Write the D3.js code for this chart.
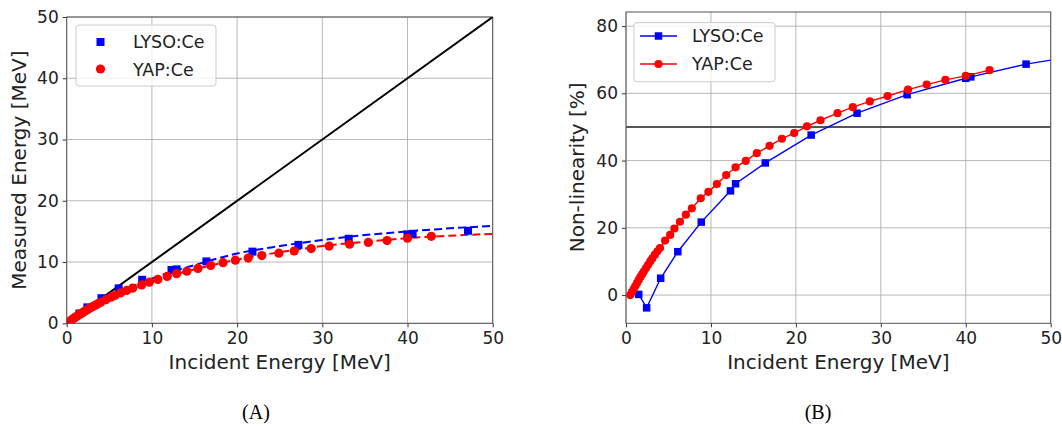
<!DOCTYPE html>
<html>
<head>
<meta charset="utf-8">
<script src="https://cdn.jsdelivr.net/npm/d3@7"></script>
<style>
  body { margin: 0; background: #fff; }
  text { font-family: "DejaVu Sans", sans-serif; }
</style>
</head>
<body>
<div id="plot"></div>
<script>
var width = 1062;
var height = 428;

// LYSO:Ce points
var lysoE  = [1.5, 2.43, 4.08, 6.1, 8.86, 12.3, 12.9, 16.4, 21.8, 27.2, 33.1, 40.0, 40.6, 47.1];
var lysoM  = [1.6, 2.6, 4.1, 5.7, 7.1, 8.7, 8.8, 10.1, 11.7, 12.8, 13.8, 14.5, 14.6, 15.1];
var lysoNL = [0.2, -3.8, 5.0, 12.9, 21.7, 31.0, 33.1, 39.3, 47.6, 54.1, 59.6, 64.5, 64.9, 68.7];
// line of panel B runs on to the frame edge
var lysoEdgeE = 50, lysoEdgeNL = 69.9;

// YAP:Ce points
var yapE  = [0.5, 0.7, 0.9, 1.1, 1.3, 1.5, 1.7, 1.9, 2.1, 2.35, 2.6, 2.85, 3.1, 3.4, 3.7, 4.0, 4.6, 5.2, 5.7, 6.35,
             7.05, 7.75, 8.8, 9.7, 10.7, 11.8, 12.9, 14.1, 15.4, 16.9, 18.35, 19.8, 21.3, 22.9, 24.9, 26.7, 28.7,
             30.8, 33.2, 35.4, 37.6, 40.0, 42.8];
var yapM  = [0.5, 0.69, 0.88, 1.07, 1.25, 1.43, 1.61, 1.78, 1.95, 2.16, 2.37, 2.57, 2.76, 2.99, 3.22, 3.44, 3.85, 4.27, 4.57, 4.97,
             5.37, 5.75, 6.27, 6.72, 7.17, 7.65, 8.1, 8.5, 8.95, 9.45, 9.9, 10.3, 10.65, 11.05, 11.45, 11.8, 12.2,
             12.6, 12.9, 13.2, 13.5, 13.9, 14.2];
var yapNL = [0.0, 0.9, 1.8, 2.7, 3.6, 4.5, 5.4, 6.2, 7.0, 8.0, 9.0, 10.0, 10.9, 12.0, 13.0, 14.0, 16.2, 17.9, 19.8, 21.8,
             23.9, 25.8, 28.8, 30.7, 33.0, 35.7, 38.0, 39.9, 42.2, 44.4, 46.5, 48.2, 50.2, 52.0, 54.1, 55.9, 57.6,
             59.2, 61.1, 62.6, 64.0, 65.2, 66.9];

// dashed fit curves of panel A
var fitE    = [0, 1, 2, 3, 4, 6, 8, 10, 12.5, 15, 20, 25, 30, 35, 40, 45, 50];
var fitLyso = [0, 1.0, 1.9, 2.8, 3.6, 5.0, 6.2, 7.3, 8.5, 9.5, 11.4, 12.6, 13.6, 14.4, 15.0, 15.5, 15.9];
var fitYap  = [0, 0.98, 1.85, 2.65, 3.4, 4.7, 5.8, 6.8, 7.9, 8.8, 10.4, 11.6, 12.6, 13.3, 13.9, 14.3, 14.6];

var identityE = [0, 50];

var xTicks = [0, 10, 20, 30, 40, 50];
var yTicksA = [0, 10, 20, 30, 40, 50];
var yTicksB = [0, 20, 40, 60, 80];
var nlRef = 50;

var BLUE = '#0000ff', RED = '#ff0000';

var svg = d3.select('#plot').append('svg')
    .attr('width', width).attr('height', height);

function zip(xs, ys) { return xs.map(function(x, i) { return [x, ys[i]]; }); }

function frame(g, x, y, yTicks) {
    var x0 = x.range()[0], x1 = x.range()[1];
    var y0 = y.range()[0], y1 = y.range()[1];
    g.append('g').selectAll('line.gx').data(xTicks).enter().append('line')
        .attr('x1', d => x(d)).attr('x2', d => x(d)).attr('y1', y0).attr('y2', y1)
        .attr('stroke', '#b0b0b0').attr('stroke-width', 0.9);
    g.append('g').selectAll('line.gy').data(yTicks).enter().append('line')
        .attr('x1', x0).attr('x2', x1).attr('y1', d => y(d)).attr('y2', d => y(d))
        .attr('stroke', '#b0b0b0').attr('stroke-width', 0.9);

    var xa = g.append('g').attr('transform', 'translate(0,' + y0 + ')')
        .call(d3.axisBottom(x).tickValues(xTicks).tickSize(4).tickPadding(3).tickSizeOuter(0));
    var ya = g.append('g').attr('transform', 'translate(' + x0 + ',0)')
        .call(d3.axisLeft(y).tickValues(yTicks).tickSize(4).tickPadding(4).tickSizeOuter(0));
    [xa, ya].forEach(function(a) {
        a.select('.domain').remove();
        a.selectAll('line').attr('stroke', '#333');
        a.selectAll('text').attr('fill', '#222').style('font-size', '17px');
    });
    xa.selectAll('text').attr('dy', '0.78em');
    g.append('rect').attr('x', x0).attr('y', y1).attr('width', x1 - x0).attr('height', y0 - y1)
        .attr('fill', 'none').attr('stroke', '#555').attr('stroke-width', 1);
}

// ---------- panel A ----------
var xA = d3.scaleLinear().domain([0, 50]).range([66.7, 492.7]);
var yA = d3.scaleLinear().domain([0, 50]).range([323.3, 17]);
var gA = svg.append('g');
frame(gA, xA, yA, yTicksA);

svg.append('clipPath').attr('id', 'clipA').append('rect')
    .attr('x', 66.7).attr('y', 17).attr('width', 426).attr('height', 306.3);
var pA = gA.append('g').attr('clip-path', 'url(#clipA)');
var lineA = d3.line().x(d => xA(d[0])).y(d => yA(d[1]));

pA.append('path').datum(zip(identityE, identityE)).attr('d', lineA)
    .attr('fill', 'none').attr('stroke', '#000').attr('stroke-width', 2);
pA.append('path').datum(zip(fitE, fitLyso)).attr('d', lineA.curve(d3.curveMonotoneX))
    .attr('fill', 'none').attr('stroke', BLUE).attr('stroke-width', 2).attr('stroke-dasharray', '8,4');
pA.append('path').datum(zip(fitE, fitYap)).attr('d', lineA.curve(d3.curveMonotoneX))
    .attr('fill', 'none').attr('stroke', RED).attr('stroke-width', 2).attr('stroke-dasharray', '8,4');
pA.selectAll('rect.lyso').data(zip(lysoE, lysoM)).enter().append('rect')
    .attr('x', d => xA(d[0]) - 4).attr('y', d => yA(d[1]) - 4)
    .attr('width', 8).attr('height', 8).attr('fill', BLUE);
pA.selectAll('circle.yap').data(zip(yapE, yapM)).enter().append('circle')
    .attr('cx', d => xA(d[0])).attr('cy', d => yA(d[1])).attr('r', 4.6).attr('fill', RED);

gA.append('text').attr('x', xA(25)).attr('y', 369).attr('text-anchor', 'middle')
    .style('font-size', '20px').attr('fill', '#222').text('Incident Energy [MeV]');
gA.append('text').attr('transform', 'translate(26,' + yA(25) + ') rotate(-90)')
    .attr('text-anchor', 'middle').style('font-size', '20px').attr('fill', '#222')
    .text('Measured Energy [MeV]');

var legA = gA.append('g');
legA.append('rect').attr('x', 76).attr('y', 25).attr('width', 140).attr('height', 61).attr('rx', 3)
    .attr('fill', '#fff').attr('fill-opacity', 0.8).attr('stroke', '#ccc');
legA.append('rect').attr('x', 96.5).attr('y', 38).attr('width', 8).attr('height', 8).attr('fill', BLUE);
legA.append('circle').attr('cx', 100.5).attr('cy', 69).attr('r', 4.6).attr('fill', RED);
legA.append('text').attr('x', 133).attr('y', 48).style('font-size', '17.5px').attr('fill', '#222').text('LYSO:Ce');
legA.append('text').attr('x', 133).attr('y', 75.5).style('font-size', '17.5px').attr('fill', '#222').text('YAP:Ce');

// ---------- panel B ----------
var xB = d3.scaleLinear().domain([0, 50]).range([626, 1050.7]);
var yB = d3.scaleLinear().domain([-8.4, 84.2]).range([323.3, 12]);
var gB = svg.append('g');
frame(gB, xB, yB, yTicksB);

svg.append('clipPath').attr('id', 'clipB').append('rect')
    .attr('x', 626).attr('y', 12).attr('width', 424.7).attr('height', 311.3);
var pB = gB.append('g').attr('clip-path', 'url(#clipB)');
var lineB = d3.line().x(d => xB(d[0])).y(d => yB(d[1]));

pB.append('line').attr('x1', xB(0)).attr('x2', xB(50)).attr('y1', yB(nlRef)).attr('y2', yB(nlRef))
    .attr('stroke', '#555').attr('stroke-width', 2);
pB.append('path').datum(zip(lysoE, lysoNL).concat([[lysoEdgeE, lysoEdgeNL]])).attr('d', lineB)
    .attr('fill', 'none').attr('stroke', BLUE).attr('stroke-width', 1.4);
pB.selectAll('rect.lyso').data(zip(lysoE, lysoNL)).enter().append('rect')
    .attr('x', d => xB(d[0]) - 3.75).attr('y', d => yB(d[1]) - 3.75)
    .attr('width', 7.5).attr('height', 7.5).attr('fill', BLUE);
pB.append('path').datum(zip(yapE, yapNL)).attr('d', lineB)
    .attr('fill', 'none').attr('stroke', RED).attr('stroke-width', 1.4);
pB.selectAll('circle.yap').data(zip(yapE, yapNL)).enter().append('circle')
    .attr('cx', d => xB(d[0])).attr('cy', d => yB(d[1])).attr('r', 4.1).attr('fill', RED);

gB.append('text').attr('x', xB(25)).attr('y', 369).attr('text-anchor', 'middle')
    .style('font-size', '20px').attr('fill', '#222').text('Incident Energy [MeV]');
gB.append('text').attr('transform', 'translate(584,' + yB(38) + ') rotate(-90)')
    .attr('text-anchor', 'middle').style('font-size', '20px').attr('fill', '#222')
    .text('Non-linearity [%]');

var legB = gB.append('g');
legB.append('rect').attr('x', 634).attr('y', 22.7).attr('width', 141).attr('height', 59).attr('rx', 3)
    .attr('fill', '#fff').attr('fill-opacity', 0.8).attr('stroke', '#ccc');
legB.append('line').attr('x1', 640).attr('x2', 677).attr('y1', 36).attr('y2', 36).attr('stroke', BLUE).attr('stroke-width', 1.4);
legB.append('rect').attr('x', 654.75).attr('y', 32.25).attr('width', 7.5).attr('height', 7.5).attr('fill', BLUE);
legB.append('line').attr('x1', 640).attr('x2', 677).attr('y1', 64).attr('y2', 64).attr('stroke', RED).attr('stroke-width', 1.4);
legB.append('circle').attr('cx', 658.5).attr('cy', 64).attr('r', 4.1).attr('fill', RED);
legB.append('text').attr('x', 692).attr('y', 42).style('font-size', '17.5px').attr('fill', '#222').text('LYSO:Ce');
legB.append('text').attr('x', 692).attr('y', 70).style('font-size', '17.5px').attr('fill', '#222').text('YAP:Ce');

// captions
svg.append('text').attr('x', 256).attr('y', 419).attr('text-anchor', 'middle')
    .style('font-family', '"Liberation Serif", serif').style('font-size', '20px').text('(A)');
svg.append('text').attr('x', 818).attr('y', 419).attr('text-anchor', 'middle')
    .style('font-family', '"Liberation Serif", serif').style('font-size', '20px').text('(B)');
</script>
</body>
</html>
